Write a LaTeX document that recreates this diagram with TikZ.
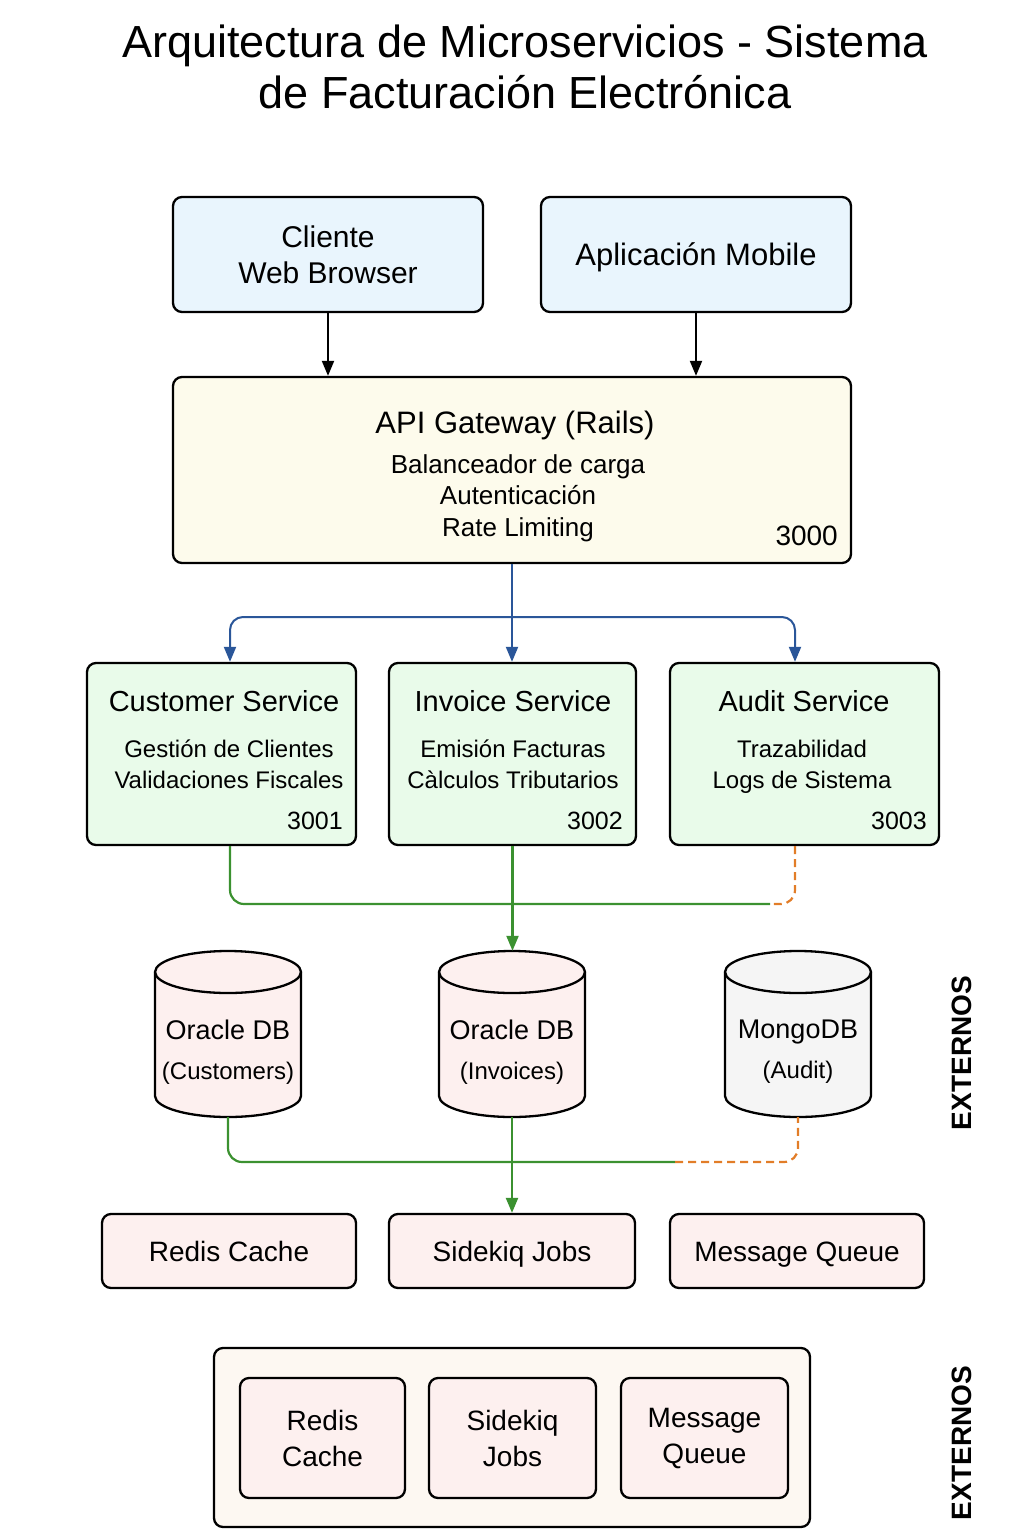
\documentclass[tikz,border=0pt]{standalone}
\usepackage{fontspec}
\setmainfont{Liberation Sans}
\usetikzlibrary{arrows.meta}

\definecolor{clientfill}{HTML}{E9F5FD}
\definecolor{gatefill}{HTML}{FDFBEC}
\definecolor{servfill}{HTML}{E9FBEA}
\definecolor{extfill}{HTML}{FDF0EF}
\definecolor{mongofill}{HTML}{F5F5F5}
\definecolor{groupfill}{HTML}{FDF8F2}
\definecolor{apiblue}{HTML}{2A5699}
\definecolor{dbgreen}{HTML}{3B9130}
\definecolor{auditorange}{HTML}{E27D28}

\begin{document}
\begin{tikzpicture}[x=1pt, y=-1pt, >={Triangle[length=15pt,width=12pt]},
    box/.style={draw, line width=2.3pt, rounded corners=9pt, inner sep=0pt, align=center},
    titletext/.style={font=\fontsize{45}{51}\selectfont, align=center},
    headtext/.style={font=\fontsize{30}{36}\selectfont, align=center},
    oneline/.style={text height=#1, text depth=0pt},
    svctext/.style={font=\fontsize{29}{34}\selectfont, inner sep=0pt, oneline=21pt},
    subtext/.style={font=\fontsize{24}{31}\selectfont, align=center, inner sep=0pt},
    porttext/.style={font=\fontsize{25}{30}\selectfont, anchor=base east, inner sep=0pt},
    dbtext/.style={font=\fontsize{24}{40}\selectfont, align=center, inner sep=0pt},
    exttext/.style={font=\fontsize{28}{36}\selectfont, align=center},
    sidetext/.style={font=\bfseries\fontsize{28}{34}\selectfont, rotate=90},
    cyl/.style={draw, line width=2.3pt},
    call/.style={->, line width=2pt},
    apilink/.style={call, draw=apiblue, rounded corners=13pt},
    datalink/.style={line width=2.2pt, draw=dbgreen, rounded corners=14pt},
    auditlink/.style={line width=2.2pt, draw=auditorange, dash pattern=on 8pt off 5pt, rounded corners=14pt}]

    % Page frame
    \useasboundingbox (0,0) rectangle (1024,1536);

    % Title
    \node[titletext] (title) at (525,67) {Arquitectura de Microservicios - Sistema\\de Facturación Electrónica};

    % Clients
    \node[box, fill=clientfill, minimum width=310pt, minimum height=115pt, headtext] (web) at (328,254.5) {Cliente\\Web Browser};
    \node[box, fill=clientfill, minimum width=310pt, minimum height=115pt, headtext, oneline=22pt, font=\fontsize{31}{36}\selectfont] (mobile) at (696,254.5) {Aplicación Mobile};

    % API gateway
    \node[box, fill=gatefill, minimum width=678pt, minimum height=186pt] (gw) at (512,470) {};
    \node[headtext, font=\fontsize{31}{36}\selectfont, inner sep=0pt] (gwname) at (515,425) {API Gateway (Rails)};
    \node[subtext, font=\fontsize{26}{31.5}\selectfont] (gwtasks) at (518,498) {Balanceador de carga\\Autenticación\\Rate Limiting};
    \node[porttext, font=\fontsize{28}{30}\selectfont] (gwport) at (838,545) {3000};

    % Clients to gateway
    \draw[call] (web.south) -- (web.south |- gw.north);
    \draw[call] (mobile.south) -- (mobile.south |- gw.north);

    % Services
    \node[box, fill=servfill, minimum width=269pt, minimum height=182pt] (cust) at (221.5,754) {};
    \node[svctext] (custname) at (224,701) {Customer Service};
    \node[subtext] (custtasks) at (229,764) {Gestión de Clientes\\Validaciones Fiscales};
    \node[porttext] (custport) at (343,829) {3001};

    \node[box, fill=servfill, minimum width=247pt, minimum height=182pt] (inv) at (512.5,754) {};
    \node[svctext] (invname) at (513,701) {Invoice Service};
    \node[subtext] (invtasks) at (513,764) {Emisión Facturas\\Càlculos Tributarios};
    \node[porttext] (invport) at (623,829) {3002};

    \node[box, fill=servfill, minimum width=269pt, minimum height=182pt] (aud) at (804.5,754) {};
    \node[svctext] (audname) at (804,701) {Audit Service};
    \node[subtext] (audtasks) at (802,767) {Trazabilidad\\Logs de Sistema};
    \node[porttext] (audport) at (927,829) {3003};

    % Gateway to services
    \coordinate (fork) at (512,617);
    \draw[apilink] (gw.south) -- (gw.south |- inv.north);
    \draw[apilink] (fork) -| ([xshift=8.5pt]cust.north);
    \draw[apilink] (fork) -| ([xshift=-9.5pt]aud.north);

    % Databases
    \def\ry{21}
    \foreach \db/\cx/\dbfill/\top/\bot in {dbc/228/extfill/{Oracle DB}/{(Customers)},
                                          dbi/512/extfill/{Oracle DB}/{(Invoices)},
                                          dbm/798/mongofill/{MongoDB}/{(Audit)}}{
        \path[cyl, fill=\dbfill] (\cx-73,972) -- (\cx-73,1096)
            arc[start angle=180, end angle=360, x radius=73pt, y radius=\ry pt] -- (\cx+73,972)
            arc[start angle=0, end angle=180, x radius=73pt, y radius=\ry pt] -- cycle;
        \draw[cyl] (\cx-73,972) arc[start angle=180, end angle=360, x radius=73pt, y radius=\ry pt];
        \node[minimum width=146pt, minimum height=166pt, inner sep=0pt] (\db) at (\cx,1034) {};
        \node[dbtext] (\db-label) at (\cx,1052) {{\fontsize{27}{40}\selectfont\top}\\\bot};
    }

    % Services to databases
    \coordinate (merge1) at (770,904);
    \draw[datalink] ([xshift=8.5pt]cust.south) |- (merge1);
    \draw[auditlink] ([xshift=-9.5pt]aud.south) |- (merge1);
    \draw[datalink, ->] (inv.south) -- (inv.south |- dbi.north);

    % External tools
    \node[box, fill=extfill, minimum width=254pt, minimum height=74pt, exttext, oneline=20pt] (redis) at (229,1251) {Redis Cache};
    \node[box, fill=extfill, minimum width=246pt, minimum height=74pt, exttext, oneline=20pt] (sidekiq) at (512,1251) {Sidekiq Jobs};
    \node[box, fill=extfill, minimum width=254pt, minimum height=74pt, exttext, oneline=20pt] (queue) at (797,1251) {Message Queue};

    % Databases to tools
    \coordinate (merge2) at (675,1162);
    \draw[datalink] (dbc.south) |- (merge2);
    \draw[auditlink] (merge2) -| (dbm.south);
    \draw[datalink, ->] (dbi.south) -- (sidekiq.north);

    % External group
    \node[box, fill=groupfill, minimum width=596pt, minimum height=179pt] (group) at (512,1437.5) {};
    \node[box, fill=extfill, minimum width=165pt, minimum height=120pt, exttext] (gredis) at (322.5,1438) {Redis\\Cache};
    \node[box, fill=extfill, minimum width=167pt, minimum height=120pt, exttext] (gsidekiq) at (512.5,1438) {Sidekiq\\Jobs};
    \node[box, fill=extfill, minimum width=167pt, minimum height=120pt, exttext] (gqueue) at (704.5,1438) {Message\\Queue};

    % Side labels
    \node[sidetext] (extA) at (962,1053) {EXTERNOS};
    \node[sidetext] (extB) at (962,1443) {EXTERNOS};
\end{tikzpicture}
\end{document}
